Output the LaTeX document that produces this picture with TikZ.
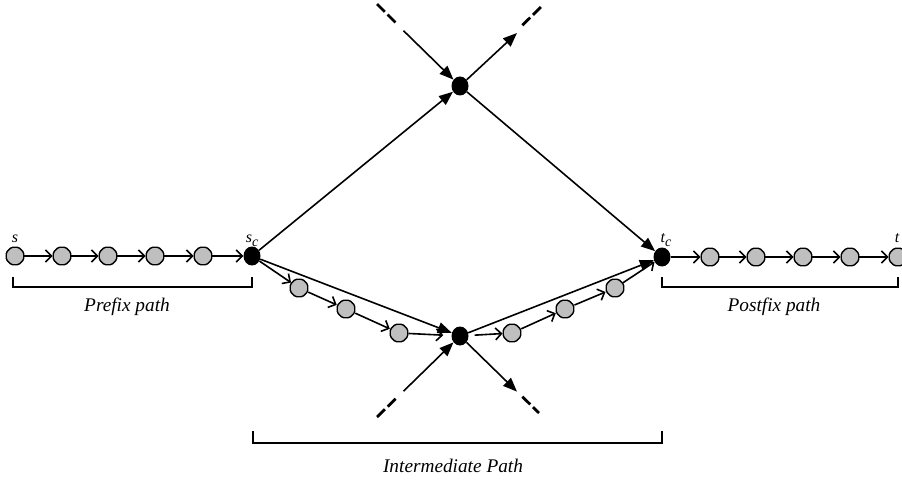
\documentclass[tikz,border=0pt]{standalone}
\usepackage{fontspec}
\setmainfont{Liberation Serif}
\usetikzlibrary{arrows.meta,shapes.geometric}

\begin{document}
\begin{tikzpicture}[x=1pt,y=-1pt,
  graynode/.style={regular polygon, regular polygon sides=8, minimum size=19pt,
    inner sep=0pt, fill=black!25, draw=black, line width=1.4pt, rounded corners=1.5pt},
  endnode/.style={ellipse, minimum width=17pt, minimum height=19pt,
    inner sep=0pt, fill=black},
  hop/.style={line width=1.6pt, -{Straight Barb[length=6pt,width=12pt]}},
  link/.style={line width=1.6pt, -{Triangle[length=14pt,width=11pt]}},
  stub/.style={line width=2.8pt, dash pattern=on 11pt off 4pt},
  lbl/.style={font=\itshape\fontsize{16}{16}\selectfont, anchor=base, inner sep=0pt},
  caption/.style={font=\itshape\fontsize{19.3}{22}\selectfont, inner sep=0pt},
  bracket/.style={line width=1.6pt}
]
\useasboundingbox (0,0) rectangle (902,481);

% prefix chain
\node[graynode] (p0) at (15,256) {};
\node[graynode] (p1) at (62,256) {};
\node[graynode] (p2) at (108,256) {};
\node[graynode] (p3) at (155,256) {};
\node[graynode] (p4) at (203,256) {};
\node[endnode]  (sc) at (252,256) {};

% postfix chain
\node[endnode]  (tc) at (662,257) {};
\node[graynode] (q1) at (710,257) {};
\node[graynode] (q2) at (756,257) {};
\node[graynode] (q3) at (803,257) {};
\node[graynode] (q4) at (850,257) {};
\node[graynode] (t)  at (898,257) {};

% crossing nodes
\node[endnode] (top) at (460,86) {};
\node[endnode] (bot) at (460,336) {};

% intermediate relays
\node[graynode] (a1) at (299,288) {};
\node[graynode] (a2) at (346,309) {};
\node[graynode] (a3) at (399,333) {};
\node[graynode] (b1) at (512,333) {};
\node[graynode] (b2) at (565,309) {};
\node[graynode] (b3) at (615,288) {};

% labels
\node[lbl] (ls)  at (15,242) {s};
\node[lbl] (lsc) at (252,242) {s\raisebox{-4pt}{\fontsize{14}{14}\selectfont c}};
\node[lbl] (ltc) at (666,242) {t\raisebox{-4pt}{\fontsize{14}{14}\selectfont c}};
\node[lbl] (lt)  at (897,242) {t};

% chain hops
\draw[hop] (p0) -- (p1);
\draw[hop] (p1) -- (p2);
\draw[hop] (p2) -- (p3);
\draw[hop] (p3) -- (p4);
\draw[hop] (p4) -- (sc);
\draw[hop] (tc) -- (q1);
\draw[hop] (q1) -- (q2);
\draw[hop] (q2) -- (q3);
\draw[hop] (q3) -- (q4);
\draw[hop] (q4) -- (t);

\draw[hop] (sc) -- (a1);
\draw[hop] (a1) -- (a2);
\draw[hop] (a2) -- (a3);
\draw[hop, shorten >=8pt] (a3) -- (bot);
\draw[hop, shorten <=6pt] (bot) -- (b1);
\draw[hop] (b1) -- (b2);
\draw[hop] (b2) -- (b3);
\draw[hop] (b3) -- (tc);

% direct links
\draw[link] (sc) -- (top);
\draw[link] (top) -- (tc);
\draw[link] (sc) -- (bot);
\draw[link] (bot) -- (tc);

% cross traffic stubs
\coordinate (tlF) at (377,4);
\coordinate (tlQ) at (397,24);
\coordinate (tlP) at (403.5,30.7);
\coordinate (trP) at (517,33);
\coordinate (trQ) at (522.3,25.3);
\coordinate (trF) at (542,6);
\coordinate (blF) at (377,417);
\coordinate (blQ) at (397,397.5);
\coordinate (blP) at (403.5,391.2);
\coordinate (brP) at (517,391.6);
\coordinate (brQ) at (522.3,396.7);
\coordinate (brF) at (539,413);

\draw[stub] (tlF) -- (tlQ);
\draw[link] (tlP) -- (top);
\draw[link] (top) -- (trP);
\draw[stub] (trQ) -- (trF);
\draw[stub] (blF) -- (blQ);
\draw[link] (blP) -- (bot);
\draw[link] (bot) -- (brP);
\draw[stub] (brQ) -- (brF);

% brackets
\draw[bracket] (13,277) -- (13,287) -- (252,287) -- (252,277);
\draw[bracket] (662,277) -- (662,287) -- (898,287) -- (898,277);
\draw[bracket] (253,431) -- (253,443) -- (662,443) -- (662,431);

\node[caption] (pre)  at (127,307) {Prefix path};
\node[caption] (post) at (774,307) {Postfix path};
\node[caption] (mid)  at (453,466) {Intermediate Path};
\end{tikzpicture}
\end{document}
